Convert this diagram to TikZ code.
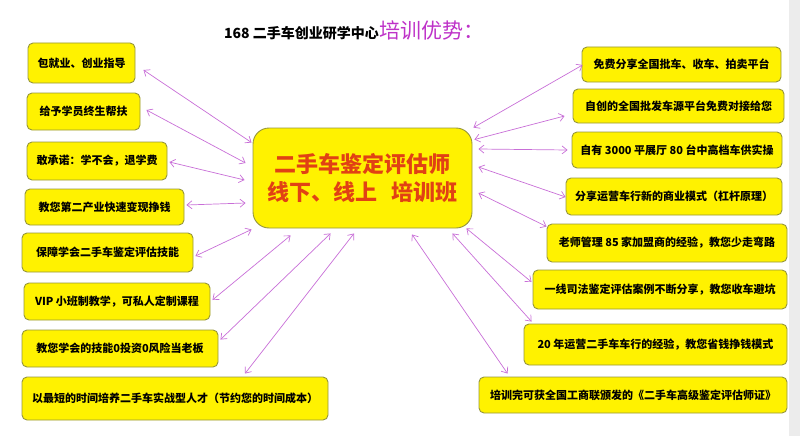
\documentclass[tikz,border=0pt]{standalone}
\usepackage{fontspec}
\setmainfont{Noto Sans CJK SC}
\usetikzlibrary{arrows.meta}
\definecolor{boxline}{RGB}{150,150,60}
\definecolor{linkc}{RGB}{200,110,215}
\definecolor{titlec}{RGB}{190,50,200}
\definecolor{centc}{RGB}{225,65,20}
\definecolor{stripc}{RGB}{236,236,236}
\tikzset{
  box/.style={draw=boxline, fill=yellow, line width=0.9pt, rounded corners=5pt, inner sep=0pt,
    font=\bfseries\fontsize{11}{13}\selectfont},
  centbox/.style={draw=boxline, fill=yellow, line width=0.9pt, rounded corners=16pt, inner sep=0pt,
    align=center, text=centc, font=\bfseries\fontsize{22}{27.5}\selectfont},
  link/.style={draw=linkc, line width=0.7pt,
    {Straight Barb[length=5pt,width=8pt]}-{Straight Barb[length=5pt,width=8pt]}},
}
\begin{document}
\begin{tikzpicture}[x=1pt,y=-1pt]
\useasboundingbox (0,0) rectangle (800,436);
\fill[stripc] (789,0) rectangle (800,436);
% title
\node[anchor=base east, inner sep=0pt, font=\bfseries\fontsize{14}{16}\selectfont] (t1) at (379,38) {168 二手车创业研学中心};
\node[anchor=base west, inner sep=0pt, text=titlec, font=\fontsize{21}{24}\selectfont] (t2) at (t1.base east) {培训优势：};
% centre
\node[centbox, minimum width=219pt, minimum height=100pt] (c) at (362.5,178) {二手车鉴定评估师\\线下、线上\hspace{0.6em}培训班};
% left boxes
\node[box, minimum width=107pt, minimum height=40pt] (l1) at (81.5,63) {包就业、创业指导};
\node[box, minimum width=113pt, minimum height=37pt] (l2) at (83.5,111.5) {给予学员终生帮扶};
\node[box, minimum width=140pt, minimum height=38pt] (l3) at (97,161) {敢承诺：学不会，退学费};
\node[box, minimum width=159pt, minimum height=36pt] (l4) at (104.5,207) {教您第二产业快速变现挣钱};
\node[box, minimum width=171pt, minimum height=39pt] (l5) at (107.5,252.5) {保障学会二手车鉴定评估技能};
\node[box, minimum width=186pt, minimum height=37pt] (l6) at (117,301.5) {VIP 小班制教学，可私人定制课程};
\node[box, minimum width=196pt, minimum height=37pt] (l7) at (120,348.5) {教您学会的技能0投资0风险当老板};
\node[box, minimum width=306pt, minimum height=43pt] (l8) at (175,398.5) {以最短的时间培养二手车实战型人才（节约您的时间成本）};
% right boxes
\node[box, minimum width=199pt, minimum height=35pt] (r1) at (681.5,64.5) {免费分享全国批车、收车、拍卖平台};
\node[box, minimum width=211pt, minimum height=34pt] (r2) at (678.5,106) {自创的全国批发车源平台免费对接给您};
\node[box, minimum width=210pt, minimum height=36pt] (r3) at (677,150) {自有 3000 平展厅 80 台中高档车供实操};
\node[box, minimum width=216pt, minimum height=37pt] (r4) at (674,196.5) {分享运营车行新的商业模式（杠杆原理）};
\node[box, minimum width=240pt, minimum height=38pt] (r5) at (667,243) {老师管理 85 家加盟商的经验，教您少走弯路};
\node[box, minimum width=254pt, minimum height=39pt] (r6) at (660,289.5) {一线司法鉴定评估案例不断分享，教您收车避坑};
\node[box, minimum width=263pt, minimum height=41pt] (r7) at (655.5,344.5) {20 年运营二手车车行的经验，教您省钱挣钱模式};
\node[box, minimum width=308pt, minimum height=36pt] (r8) at (633,395) {培训完可获全国工商联颁发的《二手车高级鉴定评估师证》};
% left connectors
\draw[link] ([shift={(8,7)}]l1.east) -- ([shift={(-1,15)}]c.north west);
\draw[link] ([shift={(6,-1.5)}]l2.east) -- ([shift={(-7,-15)}]c.west);
\draw[link] ([shift={(2,1)}]l3.east) -- ([shift={(-8,2)}]c.west);
\draw[link] ([shift={(2,-2)}]l4.east) -- ([shift={(-7,25)}]c.west);
\draw[link] ([shift={(2,3.5)}]l5.east) -- ([shift={(-1,1)}]c.south west);
\draw[link] ([shift={(2,-1.5)}]l6.east) -- ([shift={(38,7)}]c.south west);
\draw[link] ([shift={(2,10)}]l7.north east) -- ([shift={(78,5)}]c.south west);
\draw[link] ([shift={(70,-3)}]l8.north) -- ([shift={(-8.5,5)}]c.south);
% right connectors
\draw[link] ([shift={(1,0.5)}]r1.west) -- ([shift={(1,0)}]c.north east);
\draw[link] ([shift={(-8,10)}]r2.west) -- ([shift={(2,12)}]c.north east);
\draw[link] ([shift={(-4,0)}]r3.west) -- ([shift={(6,-29)}]c.east);
\draw[link] ([shift={(0,0.5)}]r4.west) -- ([shift={(6,-11)}]c.east);
\draw[link] ([shift={(0,3)}]r5.north west) -- ([shift={(6,15)}]c.east);
\draw[link] ([shift={(-1,-7.5)}]r6.west) -- ([shift={(-6,0)}]c.south east);
\draw[link] ([shift={(8,-2)}]r7.north west) -- ([shift={(-20,5)}]c.south east);
\draw[link] ([shift={(29,-3)}]r8.north west) -- ([shift={(49.5,6)}]c.south);
\end{tikzpicture}
\end{document}
